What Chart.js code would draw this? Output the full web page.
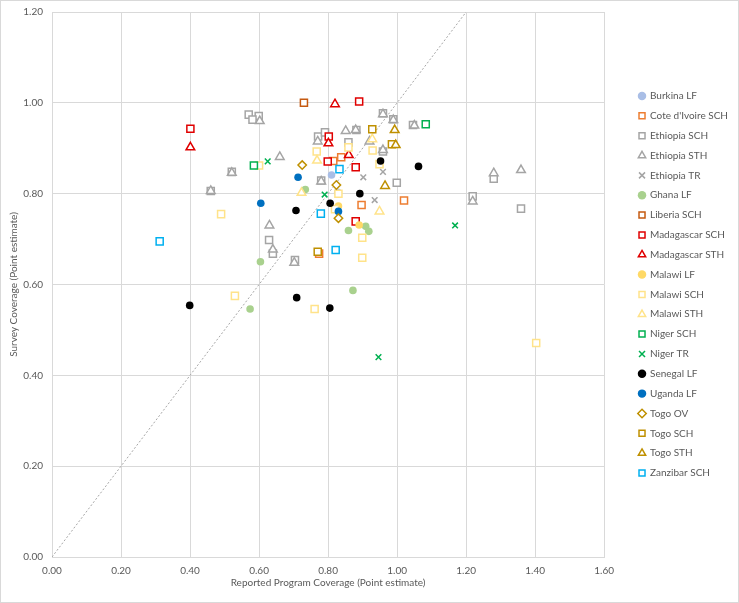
<!DOCTYPE html>
<html>
<head>
<meta charset="utf-8">
<script src="https://cdn.jsdelivr.net/npm/chart.js@4.4.1/dist/chart.umd.min.js"></script>
<style>
    html, body { margin: 0; padding: 0; background: #fff; }
    #wrap { width: 739px; height: 603px; box-sizing: border-box; border: 1px solid #D9D9D9; }
</style>
</head>
<body>
<div id="wrap"><canvas id="coverageChart"></canvas></div>
<script>
// Reported vs surveyed coverage, one [reported, survey] pair per point
const burkinaLF = [[0.810, 0.841], [0.828, 0.803]];
const coteIvoireSCH = [[0.815, 0.872], [0.838, 0.880], [0.897, 0.775], [1.020, 0.785], [0.774, 0.668]];
const ethiopiaSCH = [[0.570, 0.974], [0.599, 0.971], [0.581, 0.963], [0.771, 0.926], [0.791, 0.935], [0.780, 0.829],
    [0.629, 0.698], [0.640, 0.668], [0.704, 0.654], [0.959, 0.977], [0.989, 0.964], [0.882, 0.940], [1.046, 0.951],
    [0.859, 0.913], [0.959, 0.893], [0.999, 0.824], [0.521, 0.848], [0.460, 0.806], [1.280, 0.833], [1.219, 0.794],
    [1.359, 0.767]];
const ethiopiaSTH = [[0.602, 0.960], [0.770, 0.915], [0.660, 0.881], [0.630, 0.730], [0.640, 0.677], [0.702, 0.648],
    [0.851, 0.938], [0.920, 0.915], [1.050, 0.950], [0.959, 0.896], [0.521, 0.846], [0.460, 0.806], [1.280, 0.845],
    [1.359, 0.852], [1.219, 0.783], [0.959, 0.975], [0.989, 0.962], [0.880, 0.940], [0.780, 0.827]];
const ethiopiaTR = [[0.902, 0.836], [0.959, 0.848], [0.935, 0.786]];
const ghanaLF = [[0.734, 0.809], [0.604, 0.650], [0.574, 0.546], [0.872, 0.587], [0.859, 0.719], [0.909, 0.728], [0.918, 0.717]];
const liberiaSCH = [[0.730, 1.000]];
const madagascarSCH = [[0.401, 0.943], [0.802, 0.926], [0.799, 0.871], [0.890, 1.003], [0.880, 0.858], [0.880, 0.739]];
const madagascarSTH = [[0.401, 0.902], [0.801, 0.911], [0.820, 0.997], [0.860, 0.885]];
const malawiLF = [[0.830, 0.773], [0.890, 0.731]];
const malawiSCH = [[0.600, 0.862], [0.767, 0.893], [0.859, 0.902], [0.929, 0.895], [0.949, 0.865], [0.830, 0.800],
    [0.820, 0.766], [0.899, 0.703], [0.899, 0.659], [0.490, 0.755], [0.530, 0.575], [0.761, 0.546], [1.403, 0.471]];
const malawiSTH = [[0.768, 0.873], [0.928, 0.920], [0.723, 0.802], [0.949, 0.761]];
const nigerSCH = [[0.585, 0.862], [1.083, 0.953]];
const nigerTR = [[0.625, 0.871], [0.790, 0.798], [1.168, 0.730], [0.946, 0.440]];
const senegalLF = [[0.399, 0.554], [0.707, 0.763], [0.709, 0.571], [0.805, 0.548], [0.806, 0.779], [0.892, 0.800],
    [0.952, 0.872], [1.062, 0.860]];
const ugandaLF = [[0.713, 0.836], [0.605, 0.779], [0.830, 0.761]];
const togoOV = [[0.725, 0.863], [0.824, 0.819], [0.830, 0.746]];
const togoSCH = [[0.928, 0.942], [0.985, 0.909], [0.770, 0.672]];
const togoSTH = [[0.993, 0.940], [0.996, 0.907], [0.965, 0.817]];
const zanzibarSCH = [[0.312, 0.695], [0.779, 0.756], [0.833, 0.854], [0.822, 0.676]];

// parity line (reported == survey)
const parityLine = [[0, 0], [1.2, 1.2]];

const seriesNames = ['Burkina LF', "Cote d'Ivoire SCH", 'Ethiopia SCH', 'Ethiopia STH', 'Ethiopia TR', 'Ghana LF',
    'Liberia SCH', 'Madagascar SCH', 'Madagascar STH', 'Malawi LF', 'Malawi SCH', 'Malawi STH', 'Niger SCH',
    'Niger TR', 'Senegal LF', 'Uganda LF', 'Togo OV', 'Togo SCH', 'Togo STH', 'Zanzibar SCH'];
const seriesPoints = [burkinaLF, coteIvoireSCH, ethiopiaSCH, ethiopiaSTH, ethiopiaTR, ghanaLF, liberiaSCH,
    madagascarSCH, madagascarSTH, malawiLF, malawiSCH, malawiSTH, nigerSCH, nigerTR, senegalLF, ugandaLF,
    togoOV, togoSCH, togoSTH, zanzibarSCH];

const xTicks = [0, 0.2, 0.4, 0.6, 0.8, 1.0, 1.2, 1.4, 1.6];
const yTicks = [0, 0.2, 0.4, 0.6, 0.8, 1.0, 1.2];

// marker look per series: [shape, colour]
const markerStyles = {
    'Burkina LF': ['circle', '#A9BEE6'],
    "Cote d'Ivoire SCH": ['rect', '#ED7D31'],
    'Ethiopia SCH': ['rect', '#A5A5A5'],
    'Ethiopia STH': ['triangle', '#A5A5A5'],
    'Ethiopia TR': ['crossRot', '#A5A5A5'],
    'Ghana LF': ['circle', '#A9D18E'],
    'Liberia SCH': ['rect', '#C55A11'],
    'Madagascar SCH': ['rect', '#E00000'],
    'Madagascar STH': ['triangle', '#E00000'],
    'Malawi LF': ['circle', '#FFD966'],
    'Malawi SCH': ['rect', '#FFE38A'],
    'Malawi STH': ['triangle', '#FFE38A'],
    'Niger SCH': ['rect', '#00B050'],
    'Niger TR': ['crossRot', '#00B050'],
    'Senegal LF': ['circle', '#000000'],
    'Uganda LF': ['circle', '#0070C0'],
    'Togo OV': ['rectRot', '#BF9000'],
    'Togo SCH': ['rect', '#BF9000'],
    'Togo STH': ['triangle', '#BF9000'],
    'Zanzibar SCH': ['rect', '#00B0F0']
};
const markerRadius = { circle: 3.8, rect: 5, triangle: 5, crossRot: 4, rectRot: 4.2 };

const AXIS_GREY = '#D9D9D9';
const TEXT_GREY = '#595959';
const FONT = 'Lato, "Open Sans", sans-serif';

const datasets = seriesNames.map((name, i) => {
    const [shape, color] = markerStyles[name];
    const filled = shape === 'circle';
    return {
        label: name,
        data: seriesPoints[i].map(([x, y]) => ({ x, y })),
        pointStyle: shape,
        pointRadius: markerRadius[shape],
        pointHoverRadius: markerRadius[shape],
        backgroundColor: filled ? color : '#FFFFFF',
        borderColor: color,
        borderWidth: filled ? 0 : 1.5,
        order: -i
    };
});

datasets.push({
    label: 'parity',
    data: parityLine.map(([x, y]) => ({ x, y })),
    showLine: true,
    pointRadius: 0,
    borderColor: '#A6A6A6',
    borderWidth: 1,
    borderDash: [2, 2],
    order: 100
});

new Chart(document.getElementById('coverageChart'), {
    type: 'scatter',
    data: { datasets },
    options: {
        responsive: true,
        maintainAspectRatio: false,
        animation: false,
        layout: { padding: { top: 11, right: 0, bottom: 0, left: 0 } },
        plugins: {
            tooltip: { enabled: false },
            legend: {
                position: 'right',
                align: 'center',
                fullSize: false,
                labels: {
                    usePointStyle: true,
                    boxWidth: 6,
                    boxHeight: 6,
                    padding: 9.84,
                    color: TEXT_GREY,
                    font: { family: FONT, size: 10 },
                    filter: (item) => item.text !== 'parity',
                    sort: (a, b) => a.datasetIndex - b.datasetIndex
                }
            }
        },
        scales: {
            x: {
                type: 'linear',
                min: 0,
                max: 1.6,
                afterBuildTicks: (s) => { s.ticks = xTicks.map((v) => ({ value: v })); },
                afterFit: (s) => { s.height = 45; },
                grid: { color: AXIS_GREY, drawTicks: false },
                border: { color: AXIS_GREY },
                ticks: { color: TEXT_GREY, padding: 8, font: { family: FONT, size: 10 }, callback: (v) => v.toFixed(2) },
                title: { display: true, text: 'Reported Program Coverage (Point estimate)', color: TEXT_GREY,
                    font: { family: FONT, size: 10 }, padding: { top: 0, bottom: 13 } }
            },
            y: {
                type: 'linear',
                min: 0,
                max: 1.2,
                afterBuildTicks: (s) => { s.ticks = yTicks.map((v) => ({ value: v })); },
                afterFit: (s) => { s.width = 51; s.paddingTop = 0; s.paddingBottom = 0; },
                grid: { color: AXIS_GREY, drawTicks: false },
                border: { color: AXIS_GREY },
                ticks: { color: TEXT_GREY, padding: 9, font: { family: FONT, size: 10 }, callback: (v) => v.toFixed(2) },
                title: { display: true, text: 'Survey Coverage (Point estimate)', color: TEXT_GREY,
                    font: { family: FONT, size: 10 }, padding: { top: 7, bottom: 0 } }
            },
            gap: {
                type: 'linear',
                position: 'right',
                display: true,
                afterFit: (s) => { s.width = 25; s.paddingTop = 0; s.paddingBottom = 0; },
                grid: { display: false, drawTicks: false },
                border: { display: false },
                ticks: { display: false }
            }
        }
    }
});
</script>
</body>
</html>
